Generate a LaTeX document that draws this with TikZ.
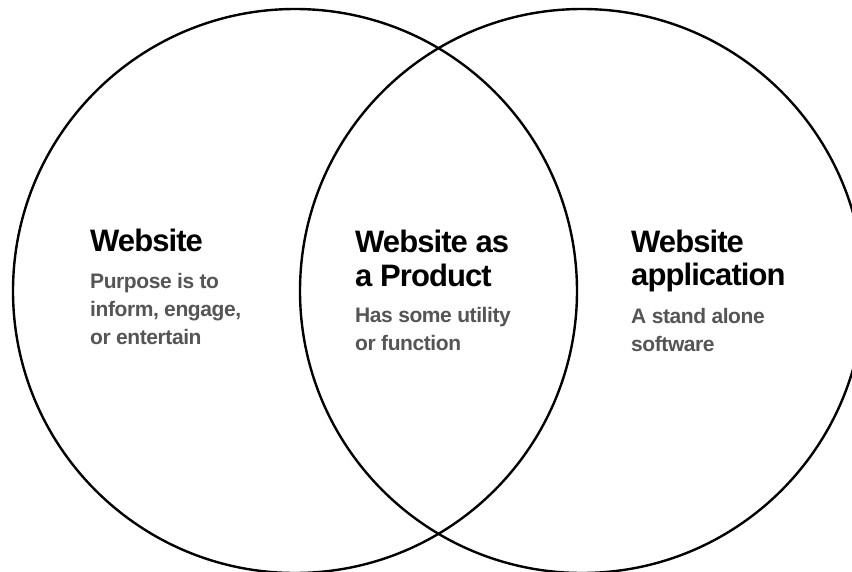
\documentclass[tikz,border=0pt]{standalone}
\usepackage{fontspec}
\setmainfont{Liberation Sans}
\definecolor{subgray}{HTML}{555555}
\begin{document}
\begin{tikzpicture}[x=1pt,y=-1pt,
  ring/.style={draw=black,line width=2.4pt},
  heading/.style={anchor=base west,inner sep=0pt,text=black,
    font=\fontsize{31}{34}\selectfont\bfseries\addfontfeatures{LetterSpace=-3}},
  note/.style={anchor=base west,inner sep=0pt,text=subgray,
    font=\fontsize{21}{28}\selectfont\bfseries\addfontfeatures{LetterSpace=-2}}]
\useasboundingbox (0,0) rectangle (852,571);
\begin{scope}
\clip (0,0) rectangle (852,571);
\draw[ring] (295,291) circle[radius=282];
\draw[ring] (582,291) circle[radius=282];
\end{scope}
% left set
\node[heading] (t1) at (90,251) {Website};
\node[note] (s1a) at (90,288) {Purpose is to};
\node[note] (s1b) at (90,316) {inform, engage,};
\node[note] (s1c) at (90,344) {or entertain};
% overlap
\node[heading] (t2a) at (355,252) {Website as};
\node[heading] (t2b) at (355,286) {a Product};
\node[note] (s2a) at (355,322) {Has some utility};
\node[note] (s2b) at (355,350) {or function};
% right set
\node[heading] (t3a) at (631,252) {Website};
\node[heading] (t3b) at (631,285) {application};
\node[note] (s3a) at (631,323) {A stand alone};
\node[note] (s3b) at (631,351) {software};
\end{tikzpicture}
\end{document}
